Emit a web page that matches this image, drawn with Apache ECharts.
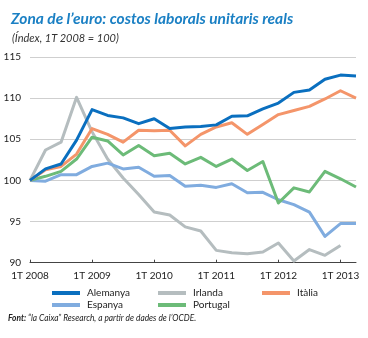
<!DOCTYPE html>
<html>
<head>
<meta charset="utf-8">
<script src="https://cdn.jsdelivr.net/npm/echarts@6/dist/echarts.min.js"></script>
<style>
  html, body { margin: 0; padding: 0; background: #fff; }
  #chart { width: 368px; height: 338px; }
</style>
</head>
<body>
<div id="chart"></div>
<script>
// Quarterly periods, 1T 2008 .. 2T 2013
const quarters = [];
for (let y = 2008; y <= 2013; y++) {
  for (let q = 1; q <= 4; q++) {
    if (y === 2013 && q > 2) break;
    quarters.push(q + 'T ' + y);
  }
}

// Real unit labour costs, index 1T 2008 = 100
const alemanya = [100, 101.4, 102.0, 104.9, 108.6, 107.9, 107.6, 106.9, 107.5, 106.3, 106.5, 106.55, 106.75, 107.8, 107.85, 108.7, 109.4, 110.7, 111.0, 112.3, 112.8, 112.7];
const irlanda  = [100, 103.7, 104.65, 110.1, 105.9, 102.6, 100.3, 98.3, 96.15, 95.8, 94.35, 93.85, 91.5, 91.2, 91.1, 91.3, 92.4, 90.2, 91.6, 90.9, 92.1, null];
const italia   = [100, 101.3, 101.7, 103.2, 106.3, 105.6, 104.65, 106.1, 106.05, 106.1, 104.2, 105.6, 106.5, 107.0, 105.6, 106.8, 108.0, 108.5, 109.0, 109.9, 110.9, 110.0];
const espanya  = [100, 99.9, 100.7, 100.7, 101.7, 102.1, 101.4, 101.6, 100.5, 100.6, 99.3, 99.4, 99.15, 99.6, 98.5, 98.55, 97.65, 97.05, 96.15, 93.2, 94.75, 94.75];
const portugal = [100, 100.5, 101.1, 102.6, 105.25, 104.8, 103.1, 104.25, 103.0, 103.3, 102.0, 102.8, 101.7, 102.6, 101.2, 102.3, 97.25, 99.1, 98.6, 101.1, 100.2, 99.2];

const seriesDefs = [
  { name: 'Alemanya', data: alemanya, color: '#0a6fbf' },
  { name: 'Irlanda',  data: irlanda,  color: '#b5bdbf' },
  { name: 'Itàlia',   data: italia,   color: '#f4956a' },
  { name: 'Espanya',  data: espanya,  color: '#80acdf' },
  { name: 'Portugal', data: portugal, color: '#6cbb78' }
];
// draw order: grey first so coloured lines sit on top
const drawOrder = ['Irlanda', 'Espanya', 'Portugal', 'Itàlia', 'Alemanya'];

const legendPos = {
  'Alemanya': { left: 52,  top: 288 },
  'Irlanda':  { left: 158, top: 288 },
  'Itàlia':   { left: 262, top: 288 },
  'Espanya':  { left: 52,  top: 300 },
  'Portugal': { left: 158, top: 300 }
};

const chart = echarts.init(document.getElementById('chart'), null, { renderer: 'canvas' });

const option = {
  animation: false,
  backgroundColor: '#fff',
  color: seriesDefs.map(s => s.color),
  title: [
    {
      text: 'Zona de l\u2019euro: costos laborals unitaris reals',
      left: 6, top: 6,
      textStyle: { fontFamily: 'Lato', fontSize: 15.5, fontWeight: 'bold', fontStyle: 'italic', color: '#1b80c4' }
    },
    {
      text: '(Índex, 1T 2008 = 100)',
      left: 7, top: 28,
      textStyle: { fontFamily: 'Lato', fontSize: 11, fontWeight: 'normal', fontStyle: 'italic', color: '#333' }
    }
  ],
  legend: seriesDefs.map(s => ({
    data: [s.name],
    left: legendPos[s.name].left,
    top: legendPos[s.name].top,
    icon: 'rect',
    itemWidth: 28,
    itemHeight: 4,
    itemGap: 0,
    padding: 0,
    selectedMode: false,
    textStyle: { fontFamily: 'Lato', fontSize: 10, color: '#222', padding: [0, 0, 0, 2] }
  })),
  grid: { left: 30, right: 12, top: 57, bottom: 75.3 },
  xAxis: {
    type: 'category',
    data: quarters,
    boundaryGap: false,
    axisLine: { lineStyle: { color: '#444', width: 1 } },
    axisTick: { show: true, inside: true, length: 3, interval: i => i % 4 === 0, lineStyle: { color: '#444' } },
    axisLabel: { interval: i => i % 4 === 0, fontFamily: 'Lato', fontSize: 10, color: '#222', margin: 8 },
    splitLine: { show: false }
  },
  yAxis: {
    type: 'value',
    min: 90, max: 115, interval: 5,
    axisLine: { show: false },
    axisTick: { show: false },
    axisLabel: { fontFamily: 'Lato', fontSize: 10, color: '#222', margin: 9 },
    splitLine: { lineStyle: { color: '#cfcfcf', width: 1 } }
  },
  series: drawOrder.map(n => {
    const s = seriesDefs.find(d => d.name === n);
    return {
      name: s.name,
      type: 'line',
      data: s.data,
      color: s.color,
      symbol: 'none',
      lineStyle: { width: 3, color: s.color, join: 'round' },
      itemStyle: { color: s.color }
    };
  }),
  graphic: [
    {
      // condensed source note
      type: 'text',
      left: 8, top: 313,
      scaleX: 0.88,
      originX: 0,
      style: {
        text: '{b|Font:} \u201cla Caixa\u201d Research, a partir de dades de l\u2019OCDE.',
        fontFamily: 'Lato',
        fontSize: 9.5,
        fontStyle: 'italic',
        fill: '#222',
        rich: {
          b: { fontFamily: 'Lato', fontSize: 9.5, fontStyle: 'italic', fontWeight: 'bold', fill: '#222' }
        }
      }
    }
  ]
};

chart.setOption(option);
</script>
</body>
</html>
